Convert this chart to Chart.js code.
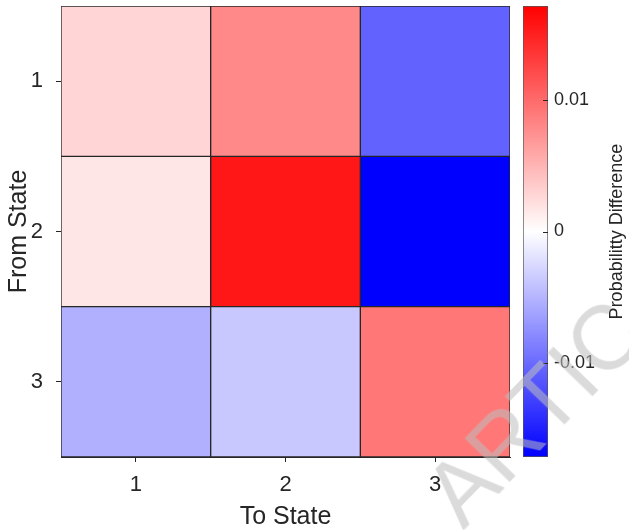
<!DOCTYPE html>
<html>
<head>
<meta charset="utf-8">
<script src="https://cdn.jsdelivr.net/npm/chart.js@4"></script>
<style>
  html, body { margin: 0; padding: 0; background: #fff; }
  body { width: 629px; height: 530px; position: relative; overflow: hidden; }
  #heat { position: absolute; left: 0; top: 0; }
  #cbar { position: absolute; left: 515px; top: 0; }
  #stamp {
    position: absolute; left: 478px; top: 442px;
    font: 90px "Liberation Sans", Arial, sans-serif;
    color: rgba(190, 190, 190, 0.55);
    transform-origin: 0 100%;
    transform: rotate(-46deg);
    white-space: nowrap; pointer-events: none;
  }
</style>
</head>
<body>
<canvas id="heat" width="515" height="530"></canvas>
<canvas id="cbar" width="114" height="530"></canvas>
<div id="stamp">ARTIC</div>
<script>
const toStates = ['1', '2', '3'];
const fromStates = [1, 2, 3];
// probability differences, one row per "from" state
const row1 = [0.0028, 0.0080, -0.0105];
const row2 = [0.0017, 0.0156, -0.0171];
const row3 = [-0.0053, -0.0037, 0.0091];
const rows = [row1, row2, row3];
const colorLimit = 0.0171;
const cbTicks = [-0.01, 0, 0.01];

const FONT = '"Liberation Sans", Arial, sans-serif';
const INK = '#262626';

// blue - white - red map
function bwr(v) {
    const t = Math.max(-1, Math.min(1, v / colorLimit));
    if (t >= 0) {
        const g = Math.round(255 * (1 - t));
        return `rgb(255, ${g}, ${g})`;
    }
    const g = Math.round(255 * (1 + t));
    return `rgb(${g}, ${g}, 255)`;
}

const heatDatasets = rows.map((vals, i) => ({
    label: 'From ' + fromStates[i],
    data: toStates.map(() => [fromStates[i] - 0.5, fromStates[i] + 0.5]),
    backgroundColor: vals.map(bwr),
    borderColor: INK,
    borderWidth: 1,
    borderSkipped: false,
    barPercentage: 1,
    categoryPercentage: 1,
    grouped: false
}));

new Chart(document.getElementById('heat'), {
    type: 'bar',
    data: { labels: toStates, datasets: heatDatasets },
    options: {
        responsive: false,
        animation: false,
        layout: { padding: { top: 6, right: 5 } },
        plugins: { legend: { display: false }, tooltip: { enabled: false } },
        scales: {
            x: {
                offset: true,
                grid: { offset: false, drawOnChartArea: false, tickLength: 5, color: INK },
                border: { color: INK },
                ticks: { font: { family: FONT, size: 22 }, color: INK, padding: 10 },
                title: {
                    display: true, text: 'To State', color: INK,
                    font: { family: FONT, size: 25, lineHeight: 1.05 }, padding: { top: 0, bottom: 0 }
                },
                afterFit: s => { s.height = 73; s.paddingLeft = 0; s.paddingRight = 0; }
            },
            y: {
                min: 0.5, max: 3.5, reverse: true,
                afterBuildTicks: s => { s.ticks = fromStates.map(v => ({ value: v })); },
                grid: { drawOnChartArea: false, tickLength: 5, color: INK },
                border: { color: INK },
                ticks: { font: { family: FONT, size: 22 }, color: INK, padding: 13 },
                title: {
                    display: true, text: 'From State', color: INK,
                    font: { family: FONT, size: 25, lineHeight: 0.88 }, padding: { top: 8, bottom: 0 }
                },
                afterFit: s => { s.width = 61; s.paddingTop = 0; s.paddingBottom = 0; }
            }
        }
    }
});

// colour bar: inward tick marks and a bottom-to-top title
const colorbarExtras = {
    id: 'colorbarExtras',
    afterDatasetsDraw(chart) {
        const { ctx, chartArea } = chart;
        const ys = chart.scales.y;
        ctx.save();
        ctx.strokeStyle = INK;
        ctx.lineWidth = 1;
        ys.ticks.forEach(t => {
            const py = Math.round(ys.getPixelForValue(t.value)) + 0.5;
            ctx.beginPath();
            ctx.moveTo(chartArea.right - 5, py);
            ctx.lineTo(chartArea.right, py);
            ctx.stroke();
        });
        ctx.translate(chart.width - 12, (chartArea.top + chartArea.bottom) / 2);
        ctx.rotate(-Math.PI / 2);
        ctx.fillStyle = INK;
        ctx.font = '18px ' + FONT;
        ctx.textAlign = 'center';
        ctx.textBaseline = 'middle';
        ctx.fillText('Probabilitty Difference', 0, 0);
        ctx.restore();
    }
};

new Chart(document.getElementById('cbar'), {
    type: 'bar',
    data: {
        labels: ['cb'],
        datasets: [{
            data: [[-colorLimit, colorLimit]],
            backgroundColor: ctx => {
                const area = ctx.chart.chartArea;
                if (!area) return '#fff';
                const g = ctx.chart.ctx.createLinearGradient(0, area.bottom, 0, area.top);
                g.addColorStop(0, 'rgb(0, 0, 255)');
                g.addColorStop(0.5, 'rgb(255, 255, 255)');
                g.addColorStop(1, 'rgb(255, 0, 0)');
                return g;
            },
            borderColor: '#555',
            borderWidth: 1,
            borderSkipped: false,
            barPercentage: 1,
            categoryPercentage: 1
        }]
    },
    options: {
        responsive: false,
        animation: false,
        layout: { padding: { left: 8, top: 6, bottom: 73 } },
        plugins: { legend: { display: false }, tooltip: { enabled: false } },
        scales: {
            x: { display: false },
            y: {
                position: 'right',
                min: -colorLimit, max: colorLimit,
                afterBuildTicks: s => { s.ticks = cbTicks.map(v => ({ value: v })); },
                grid: { display: false, drawTicks: false },
                border: { display: false },
                ticks: {
                    font: { family: FONT, size: 18 }, color: INK, padding: 6,
                    callback: v => v === 0 ? '0' : String(v)
                },
                afterFit: s => { s.width = 81; s.paddingTop = 0; s.paddingBottom = 0; }
            }
        }
    },
    plugins: [colorbarExtras]
});
</script>
</body>
</html>
